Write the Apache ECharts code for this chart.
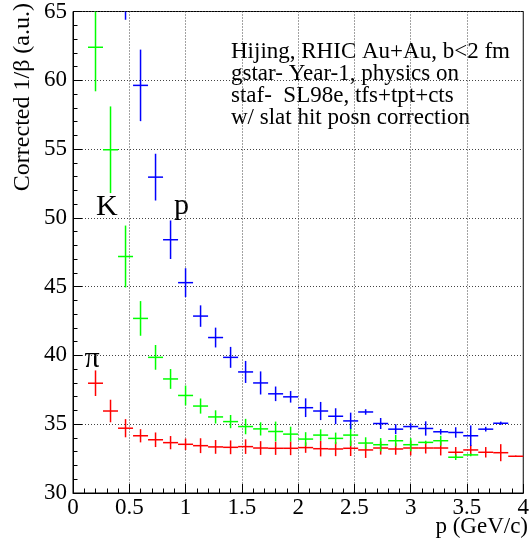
<!DOCTYPE html>
<html>
<head>
<meta charset="utf-8">
<script src="https://cdn.jsdelivr.net/npm/echarts@6/dist/echarts.min.js"></script>
<style>
  html, body { margin: 0; padding: 0; background: #fff; }
  #chart { width: 532px; height: 540px; }
</style>
</head>
<body>
<div id="chart"></div>
<script>
// Momentum bins: 30 bins of equal width over 0-4 GeV/c
const BIN_WIDTH = 4 / 30;

// pions
const piP = [0.2, 0.3333, 0.4667, 0.6, 0.7333, 0.8667, 1.0, 1.1333, 1.2667, 1.4,
  1.5333, 1.6667, 1.8, 1.9333, 2.0667, 2.2, 2.3333, 2.4667, 2.6, 2.7333,
  2.8667, 3.0, 3.1333, 3.2667, 3.4, 3.5333, 3.6667, 3.8, 3.9333];
const piVal = [37.98, 35.96, 34.71, 34.16, 33.87, 33.66, 33.54, 33.44, 33.35, 33.32,
  33.37, 33.27, 33.25, 33.25, 33.30, 33.22, 33.20, 33.25, 33.13, 33.27,
  33.20, 33.27, 33.27, 33.27, 32.96, 33.13, 32.96, 32.93, 32.67];
const piErr = [0.93, 0.82, 0.66, 0.48, 0.53, 0.48, 0.42, 0.54, 0.50, 0.50,
  0.53, 0.50, 0.48, 0.50, 0.38, 0.56, 0.52, 0.56, 0.58, 0.48,
  0.42, 0.54, 0.40, 0.54, 0.38, 0.36, 0.38, 0.62, 0.05];

// kaons
const kP = [0.2, 0.3333, 0.4667, 0.6, 0.7333, 0.8667, 1.0, 1.1333, 1.2667, 1.4,
  1.5333, 1.6667, 1.8, 1.9333, 2.0667, 2.2, 2.3333, 2.4667, 2.6, 2.7333,
  2.8667, 3.0, 3.1333, 3.2667, 3.4, 3.5333];
const kVal = [62.4, 54.95, 47.19, 42.69, 39.86, 38.29, 37.09, 36.32, 35.53, 35.19,
  34.83, 34.66, 34.47, 34.28, 33.92, 34.21, 33.97, 34.21, 33.63, 33.51,
  33.80, 33.51, 33.68, 33.80, 32.60, 32.77];
const kErr = [3.2, 3.15, 2.25, 1.26, 0.90, 0.72, 0.72, 0.55, 0.48, 0.48,
  0.56, 0.48, 0.72, 0.54, 0.50, 0.42, 0.42, 0.80, 0.42, 0.48,
  0.42, 0.48, 0.12, 0.36, 0.20, 0.10];

// protons
const prP = [0.4667, 0.6, 0.7333, 0.8667, 1.0, 1.1333, 1.2667, 1.4, 1.5333, 1.6667,
  1.8, 1.9333, 2.0667, 2.2, 2.3333, 2.4667, 2.6, 2.7333, 2.8667, 3.0,
  3.1333, 3.2667, 3.4, 3.5333, 3.6667, 3.8];
const prVal = [67.5, 59.63, 52.96, 48.41, 45.29, 42.86, 41.30, 39.86, 38.80, 38.00,
  37.21, 36.99, 36.20, 35.96, 35.58, 35.24, 35.89, 35.05, 34.64, 34.83,
  34.69, 34.45, 34.40, 34.16, 34.64, 35.07];
const prErr = [3.1, 2.6, 1.7, 1.4, 1.05, 0.78, 0.72, 0.76, 0.80, 0.84,
  0.53, 0.42, 0.68, 0.66, 0.58, 0.60, 0.20, 0.40, 0.36, 0.23,
  0.52, 0.20, 0.38, 0.75, 0.17, 0.12];

const xTicks = ['0', '0.5', '1', '1.5', '2', '2.5', '3', '3.5', '4'];
const yTicks = ['30', '35', '40', '45', '50', '55', '60', '65'];

const X_MIN = 0, X_MAX = 4, Y_MIN = 30, Y_MAX = 65;
const FONT = 'Liberation Serif';

function rows(p, v, e) {
  return p.map((x, i) => [x, v[i], e[i]]);
}

// error-bar crosses: horizontal = bin width, vertical = +/- error, clipped to the frame
function renderCross(color) {
  return function (params, api) {
    const x = api.value(0), y = api.value(1), err = api.value(2);
    const hw = BIN_WIDTH / 2;
    const children = [];
    const lo = Math.max(Y_MIN, y - err), hi = Math.min(Y_MAX, y + err);
    if (hi > lo) {
      const a = api.coord([x, lo]), b = api.coord([x, hi]);
      children.push({ type: 'line', shape: { x1: a[0], y1: a[1], x2: b[0], y2: b[1] },
        style: { stroke: color, lineWidth: 1.5 } });
    }
    if (y >= Y_MIN && y <= Y_MAX) {
      const l = api.coord([Math.max(X_MIN, x - hw), y]);
      const r = api.coord([Math.min(X_MAX, x + hw), y]);
      children.push({ type: 'line', shape: { x1: l[0], y1: l[1], x2: r[0], y2: r[1] },
        style: { stroke: color, lineWidth: 1.5 } });
    }
    return { type: 'group', children: children };
  };
}

const chart = echarts.init(document.getElementById('chart'), null, { renderer: 'canvas' });

const gridLine = { show: true, lineStyle: { color: '#444', width: 1, type: [1, 2] } };

chart.setOption({
  animation: false,
  backgroundColor: '#fff',
  grid: { left: 73, right: 5, top: 7, bottom: 47, show: true, borderColor: '#000', borderWidth: 1, backgroundColor: 'transparent' },
  xAxis: {
    type: 'value', min: X_MIN, max: X_MAX, interval: 0.5,
    axisLine: { show: true, onZero: false, lineStyle: { color: '#000', width: 1 } },
    axisTick: { show: true, inside: true, length: 9, lineStyle: { color: '#000' } },
    minorTick: { show: true, splitNumber: 5, length: 4.5, lineStyle: { color: '#000' } },
    splitLine: gridLine,
    axisLabel: {
      fontFamily: FONT, fontSize: 23, color: '#000', margin: 3,
      formatter: v => xTicks[Math.round(v / 0.5)]
    }
  },
  yAxis: {
    type: 'value', min: Y_MIN, max: Y_MAX, interval: 5,
    axisLine: { show: true, onZero: false, lineStyle: { color: '#000', width: 1 } },
    axisTick: { show: true, inside: true, length: 9, lineStyle: { color: '#000' } },
    minorTick: { show: true, splitNumber: 5, length: 4.5, lineStyle: { color: '#000' } },
    splitLine: gridLine,
    axisLabel: {
      fontFamily: FONT, fontSize: 23, color: '#000', margin: 6,
      formatter: v => yTicks[Math.round((v - Y_MIN) / 5)]
    }
  },
  graphic: [
    { type: 'text', left: 231, top: 40, silent: true,
      style: { text: 'Hijing, RHIC Au+Au, b<2 fm\ngstar- Year-1, physics on\nstaf-  SL98e, tfs+tpt+cts\nw/ slat hit posn correction',
        font: '23px "Liberation Serif"', fill: '#000', lineHeight: 22 } },
    { type: 'text', x: 23, y: 3, rotation: Math.PI / 2, silent: true,
      style: { text: 'Corrected 1/β (a.u.)', font: '24px "Liberation Serif"', fill: '#000',
        align: 'right', verticalAlign: 'middle' } },
    { type: 'text', x: 528, y: 527, silent: true,
      style: { text: 'p (GeV/c)', font: '23px "Liberation Serif"', fill: '#000',
        align: 'right', verticalAlign: 'middle' } },
    { type: 'text', x: 96, y: 207, silent: true,
      style: { text: 'K', font: '30px "Liberation Serif"', fill: '#000', align: 'left', verticalAlign: 'middle' } },
    { type: 'text', x: 174, y: 206, silent: true,
      style: { text: 'p', font: '30px "Liberation Serif"', fill: '#000', align: 'left', verticalAlign: 'middle' } },
    { type: 'text', x: 92, y: 359, silent: true,
      style: { text: 'π', font: '30px "Liberation Serif"', fill: '#000', align: 'center', verticalAlign: 'middle' } }
  ],
  series: [
    { name: 'π', type: 'custom', renderItem: renderCross('#ff0000'), data: rows(piP, piVal, piErr),
      encode: { x: 0, y: 1 }, z: 3 },
    { name: 'K', type: 'custom', renderItem: renderCross('#00ff00'), data: rows(kP, kVal, kErr),
      encode: { x: 0, y: 1 }, z: 3 },
    { name: 'p', type: 'custom', renderItem: renderCross('#0000ff'), data: rows(prP, prVal, prErr),
      encode: { x: 0, y: 1 }, z: 3 }
  ]
});
</script>
</body>
</html>
